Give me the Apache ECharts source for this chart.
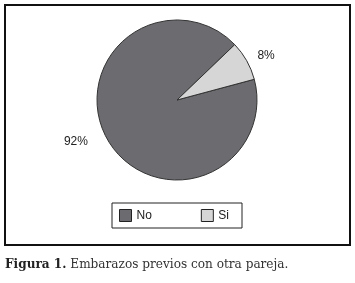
<!DOCTYPE html>
<html><head><meta charset="utf-8">
<script src="https://cdn.jsdelivr.net/npm/echarts@6/dist/echarts.min.js"></script>
<style>html,body{margin:0;padding:0;background:#fff}#c{width:355px;height:283px}</style>
</head><body><div id="c"></div>
<script>
const categories = ['No', 'Si'];
const values = [92, 8];
const colors = ['#6c6c70', '#d6d6d6'];
const caption = ['Figura 1.', ' Embarazos previos con otra pareja.'];

const labelLines = [{length: 5, length2: 10}, {length: 10, length2: 0}];
const labelShift = [{dx: 0, dy: 0}, {dx: -3, dy: 0}];

const chart = echarts.init(document.getElementById('c'), null, {renderer: 'canvas'});
chart.setOption({
  animation: false,
  backgroundColor: '#fff',
  title: {
    text: '{b|' + caption[0] + '}{n|' + caption[1] + '}',
    left: 0, top: 254,
    textStyle: {
      fontWeight: 'normal',
      rich: {
        b: {fontFamily: 'DejaVu Serif', fontWeight: 'bold', fontSize: 12.1, color: '#222'},
        n: {fontFamily: 'DejaVu Serif', fontWeight: 'normal', fontSize: 12.1, color: '#333'}
      }
    }
  },
  graphic: [{
    type: 'rect', shape: {x: 5, y: 5, width: 345, height: 240},
    style: {fill: 'none', stroke: '#111', lineWidth: 2}, silent: true, z: -1
  }],
  legend: {
    data: categories,
    left: 112, top: 203,
    orient: 'horizontal',
    padding: [6, 13, 6, 7],
    itemGap: 49,
    itemWidth: 12, itemHeight: 12,
    borderColor: '#222', borderWidth: 1,
    icon: 'rect',
    textStyle: {fontFamily: 'Liberation Sans', fontSize: 12, color: '#222'},
    itemStyle: {borderColor: '#222', borderWidth: 1}
  },
  series: [{
    type: 'pie',
    center: [177, 100],
    radius: 80,
    startAngle: 15,
    clockwise: true,
    data: categories.map((n, i) => ({name: n, value: values[i], itemStyle: {color: colors[i]}, labelLine: labelLines[i]})),
    itemStyle: {borderColor: '#333', borderWidth: 1},
    label: {
      show: true, position: 'outside',
      formatter: '{d}%',
      fontFamily: 'Liberation Sans', fontSize: 12, color: '#222'
    },
    labelLayout: (p) => labelShift[p.dataIndex],
    labelLine: {show: false},
    emphasis: {disabled: true}
  }]
});
</script></body></html>
